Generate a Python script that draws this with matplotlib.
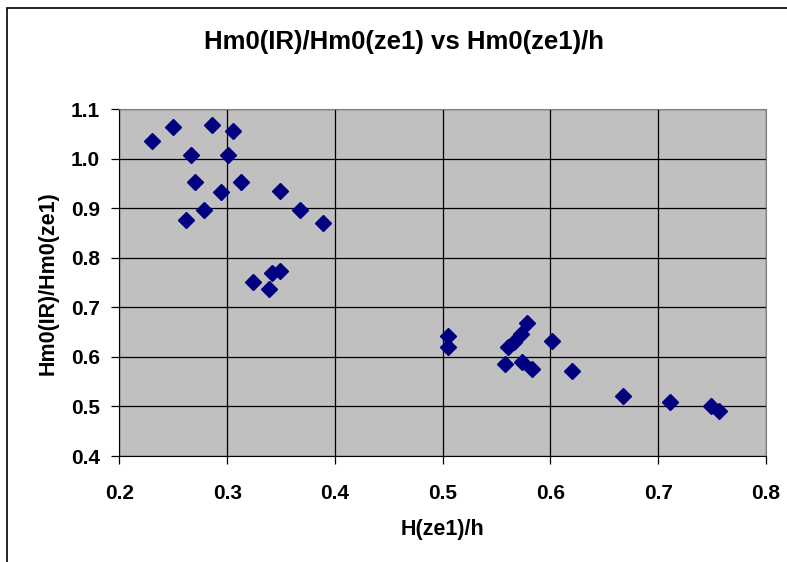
import matplotlib.pyplot as plt
from matplotlib.patches import Rectangle

# H(ze1)/h vs Hm0(IR)/Hm0(ze1)
h_ratio = [0.230, 0.250, 0.286, 0.305, 0.266, 0.301, 0.270, 0.313, 0.294,
           0.349, 0.278, 0.262, 0.368, 0.389, 0.324, 0.339, 0.342, 0.349,
           0.505, 0.505, 0.578, 0.573, 0.561, 0.566, 0.558, 0.574, 0.583,
           0.601, 0.620, 0.667, 0.711, 0.749, 0.756]
ir_ratio = [1.036, 1.064, 1.067, 1.055, 1.007, 1.008, 0.952, 0.952, 0.932,
            0.935, 0.896, 0.877, 0.896, 0.871, 0.751, 0.737, 0.769, 0.773,
            0.642, 0.619, 0.668, 0.646, 0.620, 0.629, 0.586, 0.590, 0.576,
            0.633, 0.571, 0.521, 0.509, 0.501, 0.490]

x_ticks = [0.2, 0.3, 0.4, 0.5, 0.6, 0.7, 0.8]
y_ticks = [0.4, 0.5, 0.6, 0.7, 0.8, 0.9, 1.0, 1.1]

plt.rcParams['font.family'] = ['Liberation Sans', 'DejaVu Sans']
plt.rcParams['font.weight'] = 'bold'

fig = plt.figure(figsize=(7.87, 5.62), dpi=100)
ax = fig.add_axes([0.1518, 0.1886, 0.8215, 0.6174])

# chart area border (cut off at right and bottom like the reference)
fig.patches.append(Rectangle((0.0089, -0.05), 1.2, 1.0358, transform=fig.transFigure,
                             fill=False, edgecolor='black', linewidth=1.2))

ax.set_facecolor('#C0C0C0')
ax.plot(h_ratio, ir_ratio, linestyle='none', marker='D', markersize=8.5,
        color='#000080', markeredgecolor='#000080', zorder=3)

ax.set_xlim(0.2, 0.8)
ax.set_ylim(0.4, 1.1)
ax.set_xticks(x_ticks)
ax.set_yticks(y_ticks)
ax.set_xticklabels(['%.1f' % v for v in x_ticks], fontsize=15, fontweight='bold')
ax.set_yticklabels(['%.1f' % v for v in y_ticks], fontsize=15, fontweight='bold')
ax.grid(True, color='black', linewidth=0.9)
ax.set_axisbelow(True)
ax.tick_params(direction='out', length=5.5, width=0.9)
ax.tick_params(axis='x', pad=15)
ax.tick_params(axis='y', pad=8.5)

for side in ['top', 'right']:
    ax.spines[side].set_color('#808080')
for side in ['left', 'bottom']:
    ax.spines[side].set_color('black')

fig.text(0.513, 0.925, 'Hm0(IR)/Hm0(ze1) vs Hm0(ze1)/h', ha='center', va='center',
         fontsize=18.5, fontweight='bold')
fig.text(0.562, 0.057, 'H(ze1)/h', ha='center', va='center', fontsize=15.5, fontweight='bold')
fig.text(0.061, 0.4955, 'Hm0(IR)/Hm0(ze1)', ha='center', va='center', rotation=90,
         fontsize=15.5, fontweight='bold')

fig.savefig('out.png', dpi=100)
